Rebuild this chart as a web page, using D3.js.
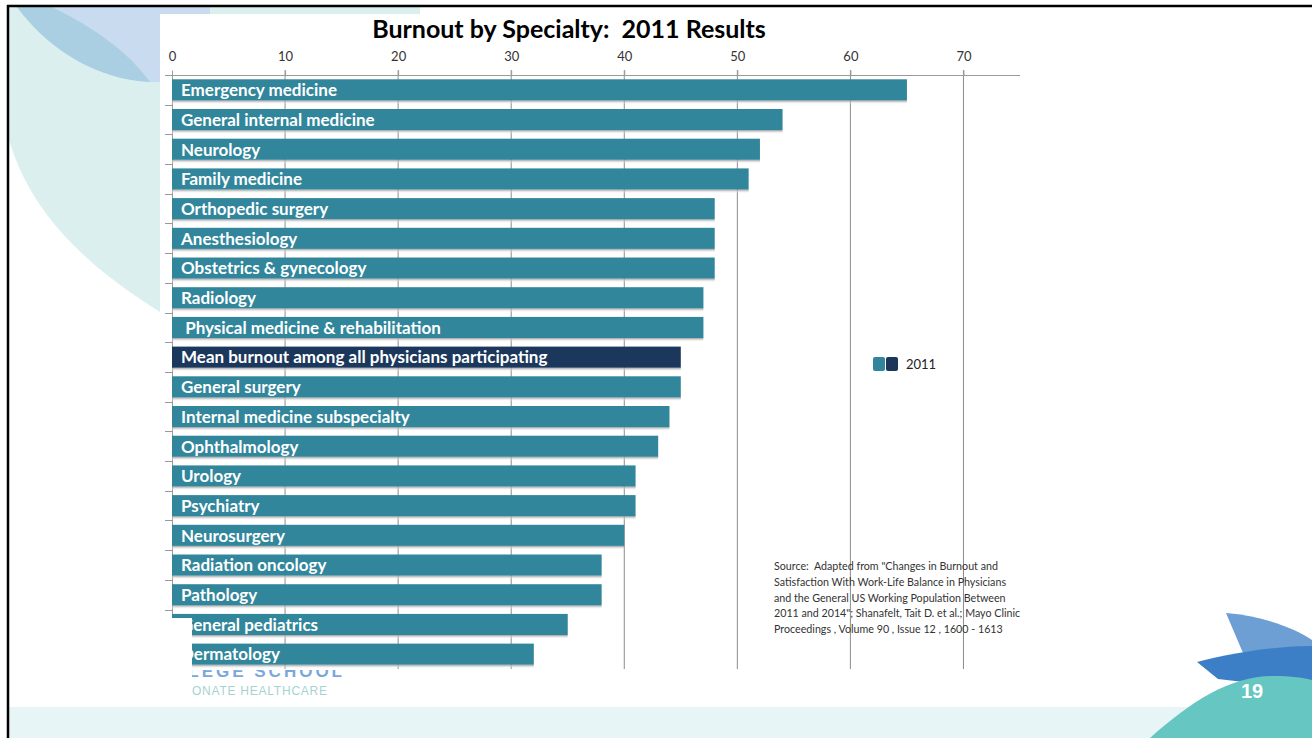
<!DOCTYPE html>
<html><head><meta charset="utf-8">
<script src="https://cdn.jsdelivr.net/npm/d3@7"></script>
<style>
html,body{margin:0;padding:0;background:#fff;}
svg{display:block;}
</style></head>
<body>
<svg id="c" width="1312" height="738"></svg>
<script>
const title = "Burnout by Specialty:  2011 Results";
const categories = [
  "Emergency medicine","General internal medicine","Neurology","Family medicine",
  "Orthopedic surgery","Anesthesiology","Obstetrics & gynecology","Radiology",
  " Physical medicine & rehabilitation","Mean burnout among all physicians participating",
  "General surgery","Internal medicine subspecialty","Ophthalmology","Urology",
  "Psychiatry","Neurosurgery","Radiation oncology","Pathology","General pediatrics","Dermatology"
];
const values2011 = [65,54,52,51,48,48,48,47,47,45,45,44,43,41,41,40,38,38,35,32];
const highlighted = ["Mean burnout among all physicians participating"];
const xTicks = [0,10,20,30,40,50,60,70];
const legendLabel = "2011";
const sourceLines = [
  "Source:  Adapted from \"Changes in Burnout and",
  "Satisfaction With Work-Life Balance in Physicians",
  "and the General US Working Population Between",
  "2011 and 2014\"; Shanafelt, Tait D. et al.; Mayo Clinic",
  "Proceedings , Volume 90 , Issue 12 , 1600 - 1613"
];
const pageNumber = "19";

const svg = d3.select("#c");
const FONT = "Lato, 'Open Sans', sans-serif";
const TEAL = "#31869b", NAVY = "#1b375c";

const defs = svg.append("defs");
const sg = defs.append("linearGradient").attr("id","shadow").attr("x1",0).attr("y1",0).attr("x2",0).attr("y2",1);
sg.append("stop").attr("offset","0%").attr("stop-color","#9a9a9a");
sg.append("stop").attr("offset","100%").attr("stop-color","#ffffff").attr("stop-opacity",0);

// ---- slide background decorations ----
const bg = svg.append("g");
bg.append("path").attr("d","M9,7 L420,7 L420,330 L160,312 C80,262 30,210 9,140 Z").attr("fill","#dbf0ee");
bg.append("path").attr("d","M17,7 L210,7 L210,82 L150,82 C100,78 50,50 17,7 Z").attr("fill","#c9dcef");
bg.append("path").attr("d","M17,7 C50,52 100,80 150,82 C128,52 95,28 52,7 Z").attr("fill","#aacfe2");
// bottom band
bg.append("rect").attr("x",9).attr("y",707).attr("width",1303).attr("height",31).attr("fill","#e7f5f6");
// logo text fragments (mostly hidden behind the chart panel)
bg.append("text").attr("x",345).attr("y",677).attr("text-anchor","end").attr("font-family","'Liberation Sans', Arial, sans-serif")
  .attr("font-size",17).attr("font-weight","bold").attr("fill","#7aa7dc").attr("letter-spacing",3).text("COLLEGE SCHOOL");
const tag = bg.append("text").attr("x",0).attr("y",695).attr("font-family","'Liberation Sans', Arial, sans-serif")
  .attr("font-size",11.5).attr("fill","#a6d3cf").attr("letter-spacing",0.7).text("COMPASSIONATE HEALTHCARE");
{
  const n = tag.node();
  const pre = n.getSubStringLength(0, 8);
  const vis = n.getSubStringLength(8, 16);
  const s = 136 / vis;
  tag.attr("font-size", 11.5 * s).attr("letter-spacing", 0.7 * s);
  const pre2 = n.getSubStringLength(0, 8);
  tag.attr("x", 192 - pre2);
}
// bottom-right shapes
bg.append("path").attr("d","M1226,613 C1262,616 1295,628 1312,640 L1312,665 L1243,653 Z").attr("fill","#6d9fd5");
bg.append("path").attr("d","M1197,662 C1240,651 1280,646 1312,646 L1312,690 L1218,679 Z").attr("fill","#3d7fc6");
bg.append("path").attr("d","M1150,738 C1190,702 1230,676 1272,676 C1292,676 1304,678 1312,680 L1312,738 Z").attr("fill","#66c6c1");
bg.append("text").attr("x",1252).attr("y",698).attr("text-anchor","middle")
  .attr("font-family","'Liberation Sans', Arial, sans-serif").attr("font-weight","bold").attr("font-size",20)
  .attr("fill","#ffffff").text(pageNumber);

// ---- chart panel ----
svg.append("rect").attr("x",160).attr("y",14).attr("width",1000).attr("height",656).attr("fill","#ffffff");

const x = d3.scaleLinear().domain([0,75]).range([172,1020]);
const y = d3.scaleBand().domain(categories).range([75,669]).paddingInner(0.29).paddingOuter(0.145);

// title
svg.append("text").attr("x",569).attr("y",38).attr("text-anchor","middle").style("white-space","pre")
  .attr("font-family",FONT).attr("font-weight","bold").attr("font-size",25).attr("fill","#000").text(title);

// gridlines
svg.append("g").selectAll("line").data(xTicks.filter(d=>d>0)).join("line")
  .attr("x1",d=>x(d)).attr("x2",d=>x(d)).attr("y1",70).attr("y2",669)
  .attr("stroke","#8c8c8c").attr("stroke-width",1);

// top axis
const xAxis = d3.axisTop(x).tickValues(xTicks).tickSize(5).tickPadding(10).tickFormat(d3.format("d"));
const gx = svg.append("g").attr("transform","translate(0,75.5)").call(xAxis);
gx.select(".domain").attr("d","M165,0H1020").attr("stroke","#9a9a9a");
gx.selectAll(".tick line").attr("stroke","#9a9a9a");
gx.selectAll(".tick text").attr("font-family",FONT).attr("font-size",13).attr("fill","#333");

// category axis line + ticks at band boundaries
svg.append("line").attr("x1",172.5).attr("x2",172.5).attr("y1",75).attr("y2",669).attr("stroke","#9a9a9a");
const bounds = categories.map(c=>y(c)-y.step()*y.paddingInner()/2).concat([669]);
svg.append("g").selectAll("line").data(bounds).join("line")
  .attr("x1",165).attr("x2",172).attr("y1",d=>Math.round(d)+0.5).attr("y2",d=>Math.round(d)+0.5)
  .attr("stroke","#9a9a9a");

// bars
const rows = categories.map((c,i)=>({c, v:values2011[i], hi: highlighted.includes(c)}));
const bars = svg.append("g").selectAll("g").data(rows).join("g");
bars.append("rect").attr("x",x(0)).attr("y",d=>y(d.c)+y.bandwidth()).attr("width",d=>x(d.v)-x(0)).attr("height",4)
  .attr("fill","url(#shadow)");
bars.append("rect").attr("x",x(0)).attr("y",d=>y(d.c)).attr("width",d=>x(d.v)-x(0)).attr("height",y.bandwidth())
  .attr("fill",d=>d.hi?NAVY:TEAL);
bars.append("text").attr("x",x(0)+9).attr("y",d=>y(d.c)+y.bandwidth()/2).attr("dy","0.37em")
  .attr("font-family",FONT).attr("font-weight","bold").attr("font-size",17).attr("fill","#fff")
  .style("white-space","pre").text(d=>d.c);

// legend
const lg = svg.append("g");
lg.append("rect").attr("x",873).attr("y",357).attr("width",12).attr("height",14).attr("rx",2).attr("fill",TEAL);
lg.append("rect").attr("x",886).attr("y",357).attr("width",12).attr("height",14).attr("rx",2).attr("fill",NAVY);
lg.append("text").attr("x",906).attr("y",369).attr("font-family",FONT).attr("font-size",13).attr("fill","#222").text(legendLabel);

// source
svg.append("g").selectAll("text").data(sourceLines).join("text")
  .attr("x",774).attr("y",(d,i)=>570+i*15.8).style("white-space","pre")
  .attr("font-family",FONT).attr("font-size",10.7).attr("fill","#333").text(d=>d);

// white cover box bottom-left
svg.append("rect").attr("x",9).attr("y",618).attr("width",183).attr("height",89).attr("fill","#ffffff");

// slide border
svg.append("line").attr("x1",7).attr("x2",1312).attr("y1",6).attr("y2",6).attr("stroke","#000").attr("stroke-width",2.5);
svg.append("line").attr("x1",8).attr("x2",8).attr("y1",5).attr("y2",738).attr("stroke","#000").attr("stroke-width",2.5);
</script>
</body></html>
